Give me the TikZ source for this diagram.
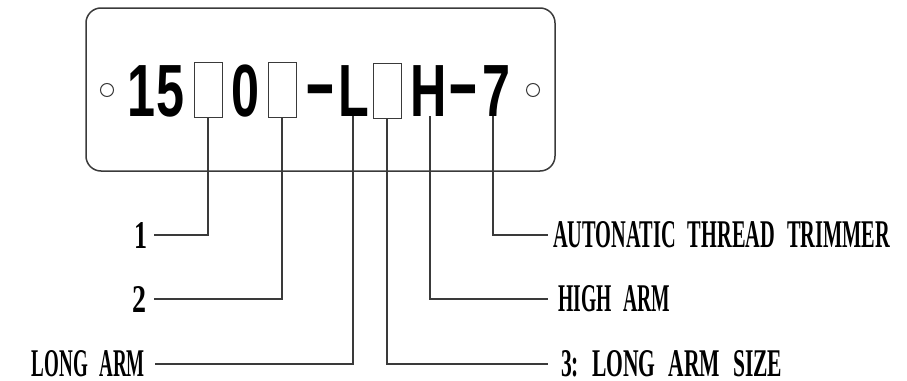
\documentclass[tikz,border=0pt]{standalone}
\usepackage{fontspec}
\usepackage{graphicx}
\newfontfamily\platefont{Liberation Sans}[FakeStretch=0.68]
\newfontfamily\labelfont{Liberation Serif}
\newcommand\fitlabel[2]{\resizebox{#1}{26pt}{\labelfont\bfseries #2}}
\newcommand\wsp{\hspace{0.6em}}
\definecolor{linegray}{HTML}{3A3A3A}
\tikzset{
  plate/.style={draw=linegray, line width=1.5pt, rounded corners=15pt},
  hole/.style={draw=linegray, line width=1pt},
  glyph/.style={inner sep=0pt, anchor=base, font=\platefont\bfseries\fontsize{74}{80}\selectfont},
  slot/.style={draw=linegray, line width=1pt, inner sep=0pt, minimum width=28pt, minimum height=55pt},
  leader/.style={draw=linegray, line width=1.3pt},
  lblL/.style={inner ysep=0pt, anchor=east},
  lblR/.style={inner ysep=0pt, anchor=west}
}
\begin{document}
\begin{tikzpicture}[x=1pt, y=-1pt]
\useasboundingbox (0,0) rectangle (907,380);
% plate
\draw[plate] (86,8) rectangle (555,171);
\node[hole, circle, minimum size=13pt, inner sep=0pt] (h1) at (107,90) {};
\node[hole, circle, minimum size=13pt, inner sep=0pt] (h2) at (533,90) {};
% model code
\node[glyph] (g1) at (141,116) {1};
\node[glyph] (g5) at (170,116) {5};
\node[slot] (b1) at (208,89.5) {};
\node[glyph] (g0) at (245,116) {0};
\node[slot] (b2) at (282,89.5) {};
\node[glyph] (d1) at (320,108) {\scalebox{1.9}[1]{-}};
\node[glyph] (gL) at (354,116) {L};
\node[slot] (b3) at (387,90.5) {};
\node[glyph] (gH) at (429,116) {H};
\node[glyph] (d2) at (463.5,108) {\scalebox{1.9}[1]{-}};
\node[glyph] (g7) at (496.5,116) {7};
% labels
\node[lblL, inner xsep=6pt] (l1) at (154,235) {\fitlabel{13pt}{1}};
\node[lblL, inner xsep=7pt] (l2) at (154,299) {\fitlabel{14pt}{2}};
\node[lblL, inner xsep=10pt] (lL) at (155,364) {\fitlabel{113pt}{LONG\wsp ARM}};
\node[lblR, inner xsep=5pt] (r7) at (548,235) {\fitlabel{337pt}{AUTONATIC\wsp THREAD\wsp TRIMMER}};
\node[lblR, inner xsep=10pt] (rH) at (548,299) {\fitlabel{112pt}{HIGH\wsp ARM}};
\node[lblR, inner xsep=13pt] (r3) at (548,364) {\fitlabel{221pt}{3:\wsp LONG\wsp ARM\wsp SIZE}};
% leaders
\draw[leader] (b1.south) |- (l1.east);
\draw[leader] (b2.south) |- (l2.east);
\draw[leader] ([xshift=-1pt]gL.south) |- (lL.east);
\draw[leader] (b3.south) |- (r3.west);
\draw[leader] ([xshift=1pt]gH.south) |- (rH.west);
\draw[leader] ([xshift=-3.5pt]g7.south) |- (r7.west);
\end{tikzpicture}
\end{document}
